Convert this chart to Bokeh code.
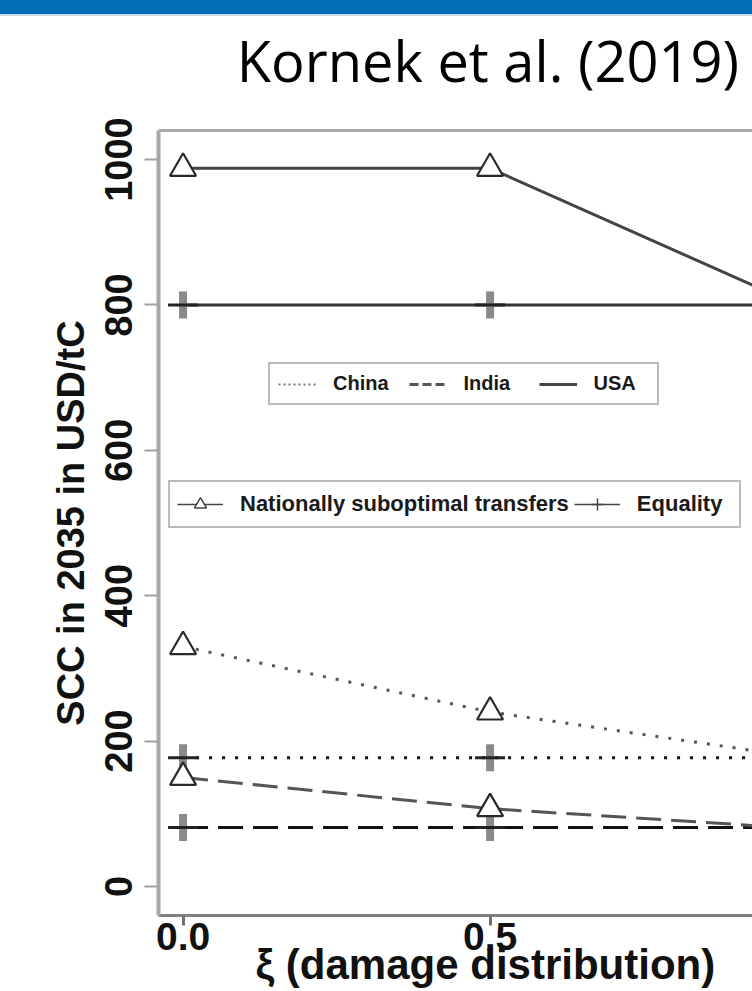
import numpy as np
from bokeh.plotting import figure
from bokeh.layouts import column
from bokeh.models import (Range1d, FixedTicker, Legend, LegendItem, Title, Div,
                          LinearAxis, NumeralTickFormatter)
from bokeh.core.properties import value
from bokeh.embed import file_html
from bokeh.resources import INLINE

# ---------------- data ----------------
xi = [0.0, 0.5, 1.0]
china_opt = [330, 240, 178]
india_opt = [150, 107, 80]
usa_opt = [988, 988, 800]
china_eq = [177, 177, 177]
india_eq = [81, 81, 81]
usa_eq = [800, 800, 800]
y_ticks = [0, 200, 400, 600, 800, 1000]
x_ticks = [0.0, 0.5, 1.0]
countries = ["China", "India", "USA"]
schemes = ["Nationally suboptimal transfers", "Equality"]
title_text = "Kornek et al. (2019)"
y_label = "SCC in 2035 in USD/tC"
x_label = "ξ (damage distribution)"

W = 752
TOP_H = 100
H = 991 - TOP_H
FONT = "Liberation Sans"

# ---------------- slide header (blue bar + citation) ----------------
header_html = (
    '<div style="position:relative;width:752px;height:100px;overflow:hidden;">'
    '<div style="position:absolute;left:0;top:0;width:752px;height:14px;background:#006EB6;"></div>'
    '<div style="position:absolute;left:0;top:14px;width:752px;height:2px;background:#c8dbef;"></div>'
    '<div style="position:absolute;right:13px;top:33px;font-family:\'Open Sans\';font-size:56px;'
    'line-height:55px;color:#000;white-space:nowrap;">' + title_text + '</div>'
    '</div>'
)
header = Div(text=header_html, width=W, height=TOP_H, margin=0)

p = figure(width=W, height=H, output_backend="svg", toolbar_location=None,
           x_range=Range1d(-0.04, 0.9274), y_range=Range1d(-40, 1040),
           min_border_left=158, min_border_right=0, min_border_top=30, min_border_bottom=76,
           margin=0)
p.outline_line_color = None
p.grid.visible = False
p.background_fill_color = "white"
p.border_fill_color = "white"

# ---------------- axes ----------------
yax = p.yaxis[0]
yax.ticker = FixedTicker(ticks=y_ticks)
yax.axis_line_color = "#a8a8a8"
yax.axis_line_width = 4
yax.major_tick_line_color = "#a0a0a0"
yax.major_tick_line_width = 2
yax.major_tick_out = 14
yax.major_tick_in = 0
yax.minor_tick_line_color = None
yax.major_label_orientation = "parallel"
yax.major_label_text_font = FONT
yax.major_label_text_font_style = "bold"
yax.major_label_text_font_size = "38px"
yax.major_label_text_color = "#111111"
yax.major_label_standoff = 12
yax.axis_label = y_label
yax.axis_label_text_font = FONT
yax.axis_label_text_font_style = "bold"
yax.axis_label_text_font_size = "38px"
yax.axis_label_text_color = "#111111"
yax.axis_label_standoff = 11

xax = p.xaxis[0]
xax.ticker = FixedTicker(ticks=x_ticks)
xax.formatter = NumeralTickFormatter(format="0.0")
xax.axis_line_color = "#808080"
xax.axis_line_width = 3
xax.major_tick_line_color = "#707070"
xax.major_tick_line_width = 3
xax.major_tick_out = 10
xax.major_tick_in = 0
xax.minor_tick_line_color = None
xax.major_label_text_font = FONT
xax.major_label_text_font_style = "bold"
xax.major_label_text_font_size = "39px"
xax.major_label_text_color = "#111111"
xax.major_label_standoff = -3

top_ax = LinearAxis(ticker=FixedTicker(ticks=[]), axis_line_color="#aaaaaa", axis_line_width=3,
                    major_tick_line_color=None, minor_tick_line_color=None,
                    major_label_text_font_size="0px")
p.add_layout(top_ax, "above")

p.add_layout(Title(text=x_label, align="left", offset=97, vertical_align="top", standoff=-24,
                   text_font=FONT, text_font_style="bold", text_font_size="42px",
                   text_color="#111111"), "below")

# ---------------- data lines ----------------
p.line(xi, usa_eq, line_color="#333333", line_width=3)
p.line(xi, china_eq, line_color="#111111", line_width=3, line_dash="3 10")
p.line(xi, india_eq, line_color="#111111", line_width=3, line_dash="25 10")
p.line(xi, usa_opt, line_color="#444444", line_width=3)
p.line(xi, china_opt, line_color="#555555", line_width=3, line_dash="3 10")
p.line(xi, india_opt, line_color="#555555", line_width=3, line_dash="25 10")

for ys in (usa_eq, china_eq, india_eq):
    p.scatter(xi, ys, marker="dash", angle=np.pi / 2, size=27, line_color="#8a8a8a", line_width=8)
    p.scatter(xi, ys, marker="dash", size=30, line_color="#222222", line_width=3)

for ys in (usa_opt, china_opt, india_opt):
    p.scatter(xi, ys, marker="triangle", size=26, line_color="#2a2a2a", line_width=2.2,
              fill_color="white")

# ---------------- legends (key-only renderers: NaN data, nothing drawn in the plot) ----------------
nan = [np.nan]
r_c = p.line(nan, nan, line_color="#777777", line_width=2, line_dash="2 3")
r_i = p.line(nan, nan, line_color="#555555", line_width=3, line_dash="9 4")
r_u = p.line(nan, nan, line_color="#444444", line_width=3)
leg1 = Legend(items=[LegendItem(label=value(countries[0]), renderers=[r_c]),
                     LegendItem(label=value(countries[1]), renderers=[r_i]),
                     LegendItem(label=value(countries[2]), renderers=[r_u])],
              orientation="horizontal", location=(110, 510), margin=0,
              glyph_width=38, glyph_height=20, label_standoff=17, spacing=20,
              label_width=55, padding=8,
              border_line_color="#777777", border_line_width=2,
              background_fill_color="white", background_fill_alpha=1,
              label_text_font=FONT, label_text_font_style="bold",
              label_text_font_size="20px", label_text_color="#1a1a1a")
p.add_layout(leg1)

r_tl = p.line(nan, nan, line_color="#444444", line_width=1.5)
r_tm = p.scatter(nan, nan, marker="triangle", line_color="#444444", line_width=1.5, fill_color="white")
r_pl = p.line(nan, nan, line_color="#444444", line_width=1.5)
r_pm = p.scatter(nan, nan, marker="cross", line_color="#444444", line_width=1.5)
leg2 = Legend(items=[LegendItem(label=value(schemes[0]), renderers=[r_tl, r_tm]),
                     LegendItem(label=value(schemes[1]), renderers=[r_pl, r_pm])],
              orientation="horizontal", location=(10, 387), margin=0,
              glyph_width=46, glyph_height=30, label_standoff=17, spacing=5,
              label_width=95, padding=7,
              border_line_color="#777777", border_line_width=2,
              background_fill_color="white", background_fill_alpha=1,
              label_text_font=FONT, label_text_font_style="bold",
              label_text_font_size="22px", label_text_color="#1a1a1a")
p.add_layout(leg2)

layout = column(header, p, spacing=0, margin=0)
open("out.html", "w").write(file_html(layout, INLINE))
